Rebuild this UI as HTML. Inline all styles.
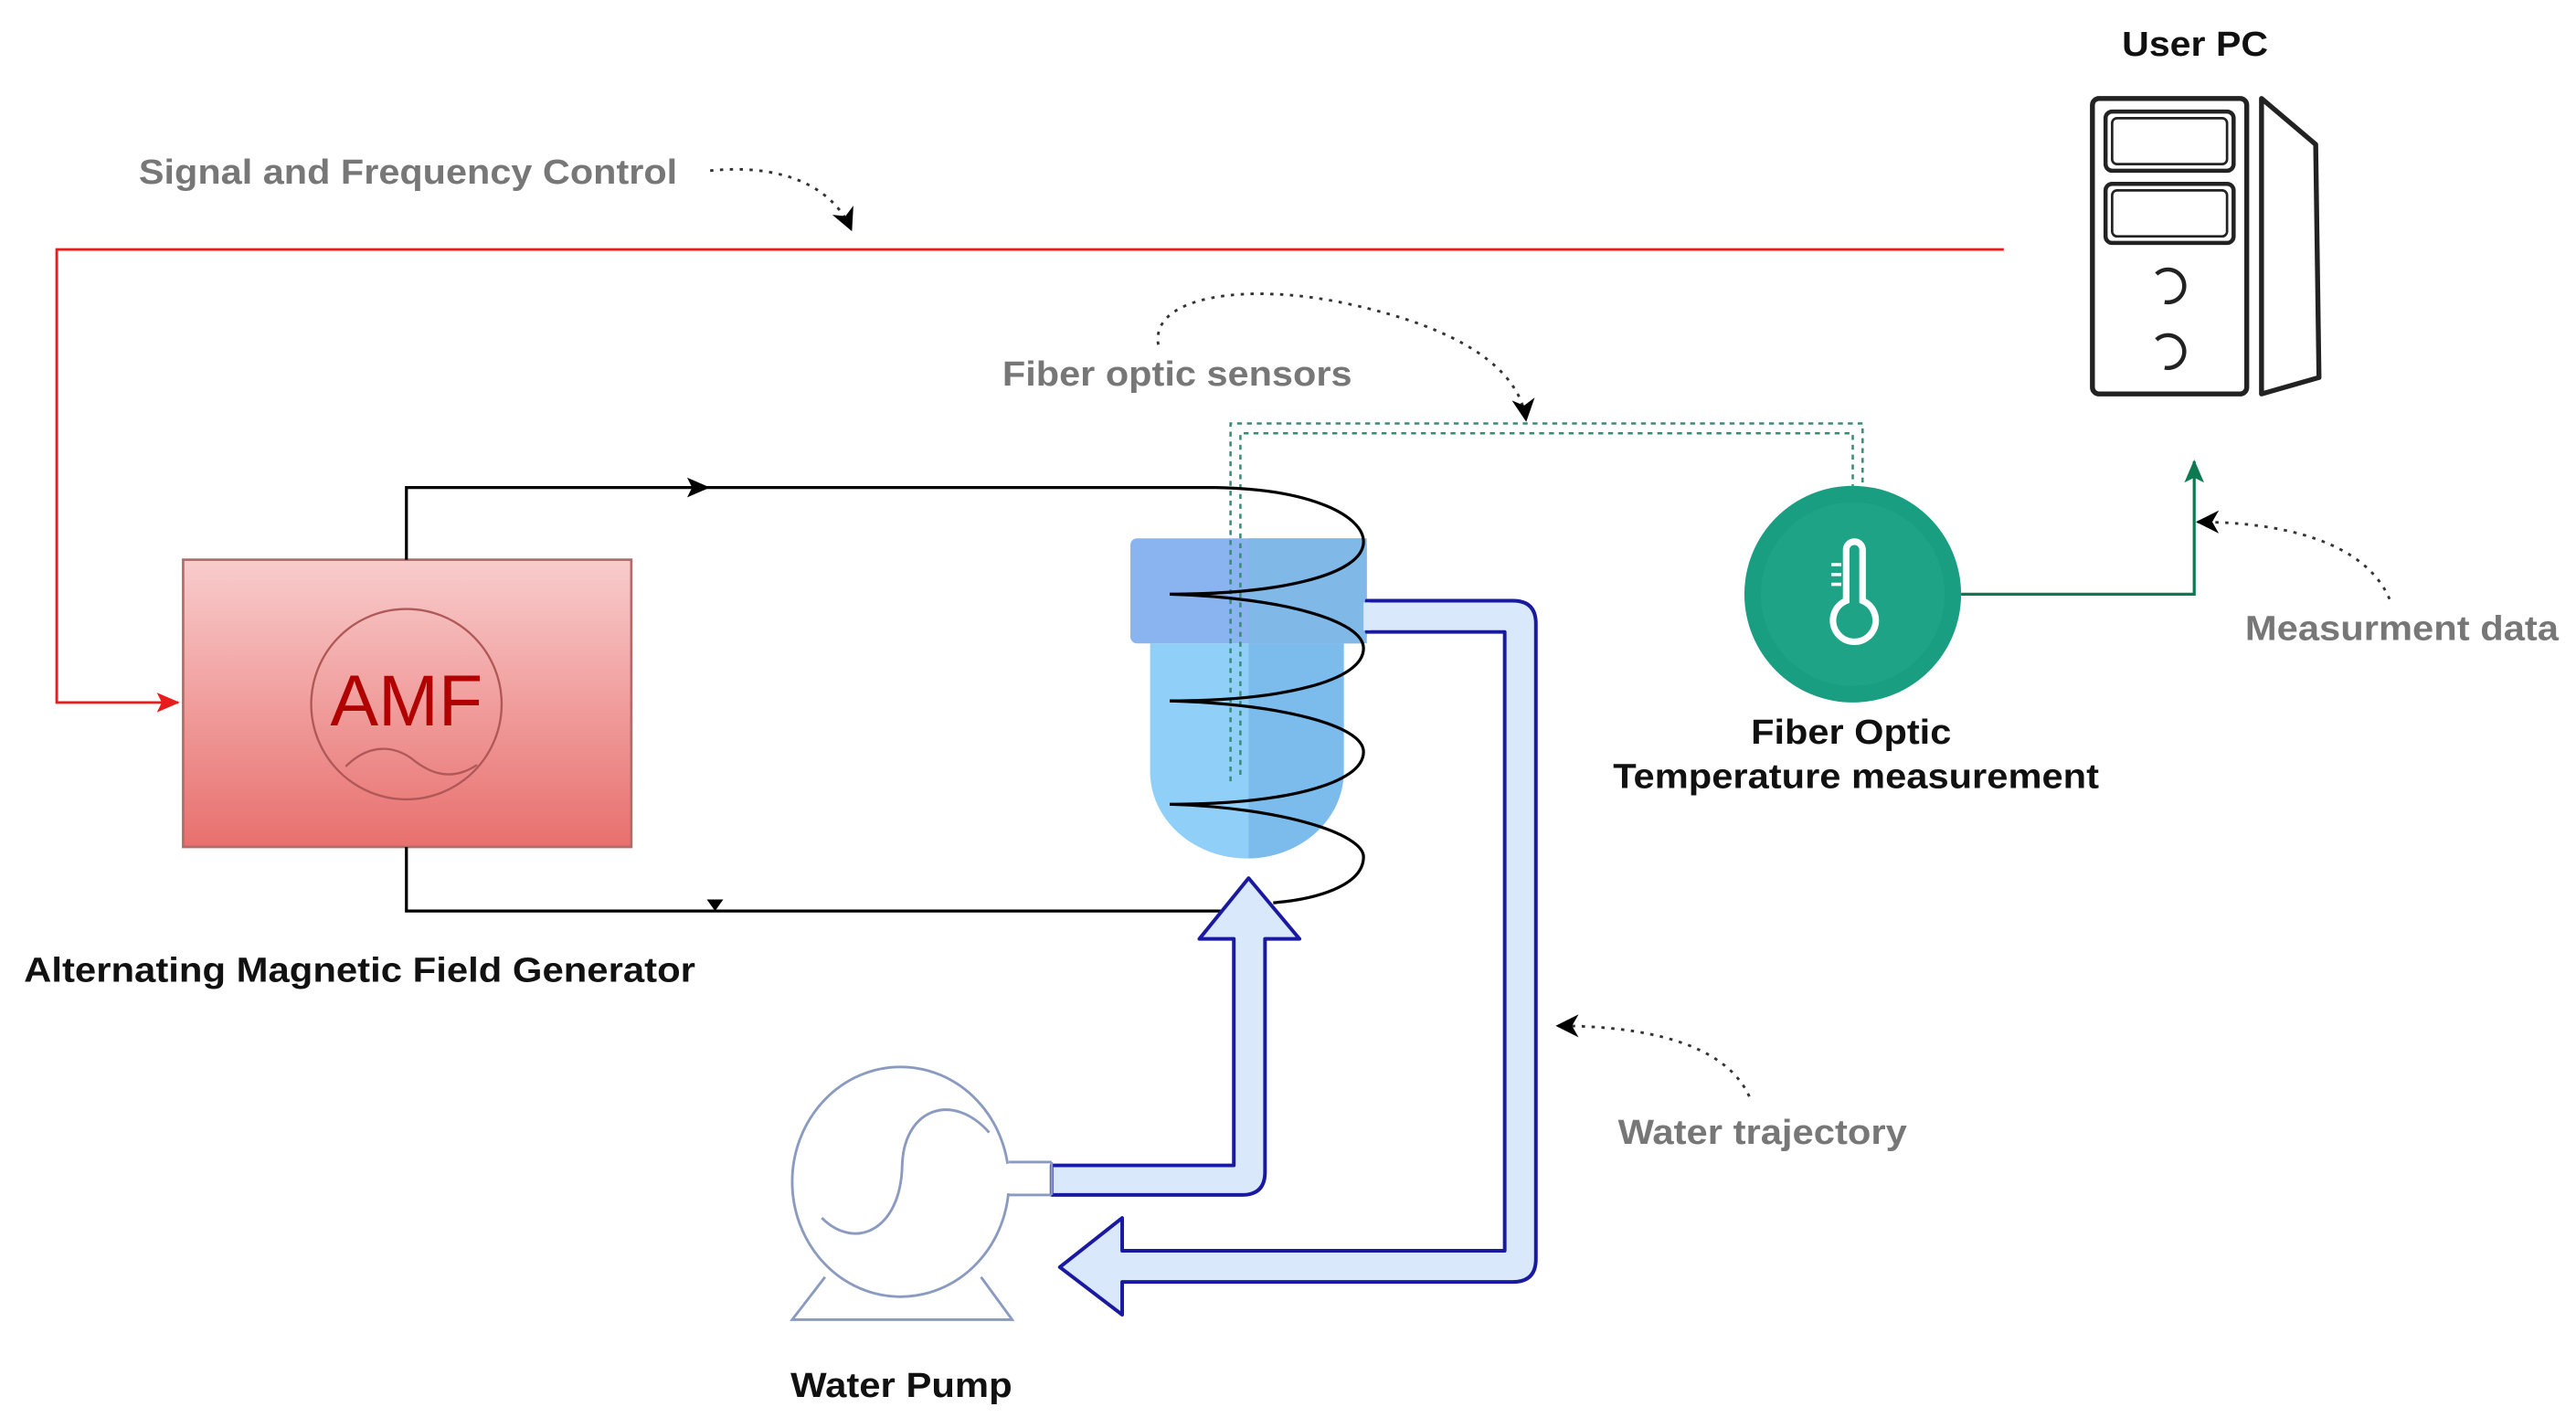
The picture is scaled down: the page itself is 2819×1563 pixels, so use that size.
<!DOCTYPE html>
<html><head><meta charset="utf-8"><style>
html,body{margin:0;padding:0;background:#fff;width:2819px;height:1563px;overflow:hidden}
svg{display:block}
text{font-family:"Liberation Sans",Arial,sans-serif}
</style></head><body>
<svg width="2819" height="1563" viewBox="0 0 1568 870" xmlns="http://www.w3.org/2000/svg">
<defs>
<linearGradient id="amf" x1="0" y1="0" x2="0" y2="1"><stop offset="0" stop-color="#f8cccc"/><stop offset="1" stop-color="#e8706e"/></linearGradient>
<marker id="ab" markerWidth="14" markerHeight="14" refX="13" refY="7" orient="auto" markerUnits="userSpaceOnUse"><path d="M0,0 L14,7 L0,14 L4,7z" fill="#000"/></marker>
<marker id="ar" markerWidth="14" markerHeight="12" refX="13" refY="6" orient="auto" markerUnits="userSpaceOnUse"><path d="M0,0 L14,6 L0,12 L3,6z" fill="#e81c1c"/></marker>
<marker id="ag" markerWidth="14" markerHeight="12" refX="13" refY="6" orient="auto" markerUnits="userSpaceOnUse"><path d="M0,0 L14,6 L0,12 L3,6z" fill="#0b7a50"/></marker>
</defs>

<g font-weight="bold" fill="#777" font-size="21">
<text x="84" y="112" textLength="328" lengthAdjust="spacingAndGlyphs">Signal and Frequency Control</text>
<text x="610" y="235" textLength="213" lengthAdjust="spacingAndGlyphs">Fiber optic sensors</text>
<text x="1367" y="390" textLength="191" lengthAdjust="spacingAndGlyphs">Measurment data</text>
<text x="985" y="697" textLength="176" lengthAdjust="spacingAndGlyphs">Water trajectory</text>
</g>
<g font-size="21" fill="#111" font-weight="bold">
<text x="14" y="598" textLength="409" lengthAdjust="spacingAndGlyphs">Alternating Magnetic Field Generator</text>
<text x="1292" y="34" textLength="89" lengthAdjust="spacingAndGlyphs">User PC</text>
<text x="1066" y="453" textLength="122" lengthAdjust="spacingAndGlyphs">Fiber Optic</text>
<text x="982" y="480" textLength="296" lengthAdjust="spacingAndGlyphs">Temperature measurement</text>
<text x="481" y="851" textLength="135" lengthAdjust="spacingAndGlyphs">Water Pump</text>
</g>

<g fill="none" stroke="#333" stroke-width="1.6" stroke-dasharray="2,4">
<path d="M432,104 C470,100 505,110 518,140" marker-end="url(#ab)"/>
<path d="M705,210 C700,180 760,172 820,185 C890,200 925,225 929,256" marker-end="url(#ab)"/>
<path d="M1455,365 C1440,330 1390,318 1338,318" marker-end="url(#ab)"/>
<path d="M1065,668 C1050,635 1000,625 948,625" marker-end="url(#ab)"/>
</g>

<path d="M1220,152 L34,152 L34,428 L108,428" fill="none" stroke="#e81c1c" stroke-width="1.6" marker-end="url(#ar)"/>

<rect x="111" y="341" width="273" height="175" fill="url(#amf)" stroke="#b36a6a" stroke-width="1.5"/>
<circle cx="247" cy="429" r="58" fill="none" stroke="#b05858" stroke-width="1.3"/>
<text x="247" y="442" text-anchor="middle" font-size="44" fill="#b00000">AMF</text>
<path d="M210,467 C225,452 240,455 250,462 C262,472 275,476 290,466" fill="none" stroke="#b05858" stroke-width="1.3"/>

<path d="M700,392 L818,392 L818,470 A59,53 0 0 1 700,470 Z" fill="#8fcff8"/>
<path d="M760,392 L818,392 L818,470 A59,53 0 0 1 760,523 Z" fill="#7bbcec"/>
<rect x="688" y="328" width="144" height="64" rx="4" fill="#8ab4f0"/>
<rect x="760" y="328" width="72" height="64" fill="#80b8e8"/>

<g fill="none" stroke="#3a8a78" stroke-width="1.4" stroke-dasharray="3,3">
<path d="M749,476 L749,258 L1134,258 L1134,296"/>
<path d="M755,472 L755,264 L1128,264 L1128,296"/>
</g>

<g fill="none" stroke="#000" stroke-width="1.8">
<path d="M247,341 L247,297 L740,297" />
<path d="M247,516 L247,555 L760,555"/>
<path d="M740,297 C800,298 830,315 830,330 C830,350 780,362 712,362"/>
<path d="M712,362 C780,364 830,378 830,395 C830,415 780,427 712,427"/>
<path d="M712,427 C780,429 830,442 830,458 C830,478 780,490 712,490"/>
<path d="M712,490 C780,492 830,508 830,522 C830,540 800,548 775,550"/>
</g>
<path d="M418,291 L432,297 L418,303 L421,297z" fill="#000"/>
<path d="M430,548 L435,555 L440,548z" fill="#000"/>

<circle cx="1128" cy="362" r="66" fill="#1a9e82"/>
<circle cx="1128" cy="362" r="56" fill="#22a88c" opacity="0.5"/>
<path d="M1124,335 A5,5 0 0 1 1134,335 L1134,366 A13,13 0 1 1 1124,366 Z" fill="none" stroke="#fff" stroke-width="4"/>
<path d="M1115,344 h6 M1115,350 h6 M1115,356 h6" stroke="#fff" stroke-width="2"/>

<path d="M1194,362 L1336,362 L1336,281" fill="none" stroke="#0b7a50" stroke-width="1.8" marker-end="url(#ag)"/>

<g fill="none" stroke="#222" stroke-width="3" stroke-linejoin="round">
<rect x="1274" y="60" width="94" height="180" rx="4"/>
<rect x="1282" y="68" width="78" height="36" rx="4" stroke-width="2.5"/>
<rect x="1286" y="72" width="70" height="28" rx="3" stroke-width="1.5"/>
<rect x="1282" y="112" width="78" height="36" rx="4" stroke-width="2.5"/>
<rect x="1286" y="116" width="70" height="28" rx="3" stroke-width="1.5"/>
<path d="M1313,167 A10,10 0 1 1 1318,184" stroke-width="2.5"/>
<path d="M1313,207 A10,10 0 1 1 1318,224" stroke-width="2.5"/>
<path d="M1377,60 L1410,88 L1412,230 L1377,240 Z"/>
</g>

<g fill="#dae8fc" stroke="#1a1aa0" stroke-width="2.2" stroke-linejoin="round">
<path d="M832,366 L921,366 Q935,366 935,380 L935,767 Q935,781 921,781 L683,781 L683,801 L645,772 L683,742 L683,762 L916,762 L916,385 L832,385 Z"/>
<path d="M640,710 L751,710 L751,572 L730,572 L760,535 L791,572 L770,572 L770,714 Q770,728 756,728 L640,728 Z"/>
</g>
<rect x="830" y="367" width="4" height="17" fill="#dae8fc"/>

<g fill="none" stroke="#8a9ac0" stroke-width="1.6">
<ellipse cx="548" cy="720" rx="66" ry="70"/>
<path d="M614,708 L640,708 M614,728 L640,728 M640,708 L640,728"/>
<path d="M500,742 C520,762 548,750 549,710 C550,675 580,665 602,690"/>
<path d="M502,778 L482,804 L616,804 L597,778"/>
</g>
<rect x="610" y="709" width="10" height="18" fill="#fff"/>
</svg>
</body></html>
